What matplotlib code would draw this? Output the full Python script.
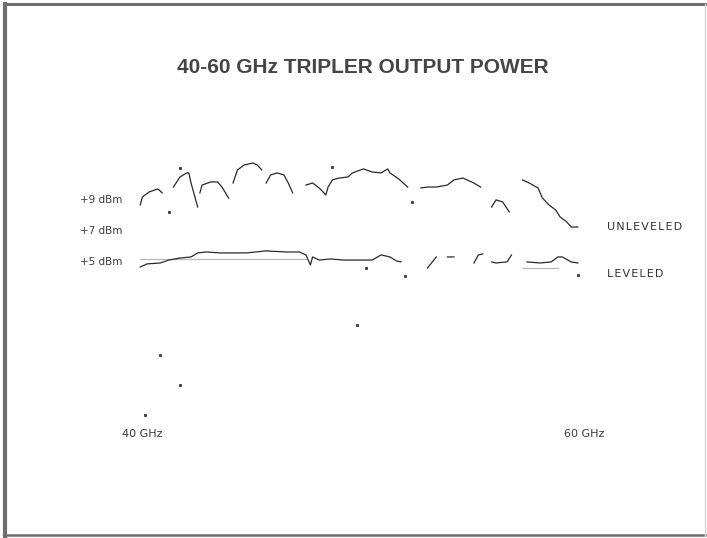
import numpy as np
import matplotlib.pyplot as plt
from matplotlib.lines import Line2D
from matplotlib.transforms import ScaledTranslation

nan = np.nan

# unleveled sweep, GHz / dBm (nan = pen lift on the plotter trace)
unlev_ghz = [40.1, 40.2, 40.5, 40.9, 41.1, nan,
             41.6, 41.9, 42.2, 42.3, 42.4, 42.7, nan,
             42.8, 42.9, 43.3, 43.6, 43.8, 44.1, nan,
             44.3, 44.5, 44.8, 45.2, 45.4, 45.6, nan,
             45.8, 46.0, 46.3, 46.6, 46.8, 47.0, nan,
             47.6, 47.9, 48.2, 48.5, 48.6, 48.8, 49.1, 49.5, 49.7, 50.2,
             50.6, 51.0, 51.3, 51.4, 51.8, 52.2, nan,
             52.8, 53.1, 53.5, 54.0, 54.3, 54.7, 55.2, 55.5, nan,
             56.0, 56.2, 56.5, 56.8, nan,
             57.4, 57.7, 58.1, 58.3, 58.6, 58.9, 59.1, 59.4, 59.6, 59.9]
unlev_dbm = [8.61, 9.13, 9.45, 9.65, 9.39, nan,
             9.77, 10.42, 10.68, 10.68, 10.03, 8.48, nan,
             9.39, 9.90, 10.10, 10.10, 9.77, 9.06, nan,
             10.03, 10.87, 11.19, 11.32, 11.19, 10.87, nan,
             10.03, 10.55, 10.68, 10.55, 10.03, 9.39, nan,
             9.90, 10.03, 9.71, 9.26, 9.77, 10.23, 10.35, 10.42, 10.68, 10.94,
             10.74, 10.68, 10.94, 10.68, 10.29, 9.77, nan,
             9.71, 9.77, 9.77, 9.90, 10.23, 10.35, 10.03, 9.77, nan,
             8.48, 8.94, 8.81, 8.16, nan,
             10.23, 10.03, 9.71, 9.06, 8.61, 8.29, 7.84, 7.52, 7.19, 7.19]

# leveled sweep
lev_ghz = [40.1, 40.4, 41.0, 41.4, 41.9, 42.4, 42.7, 43.1, 43.7, 44.3, 44.9,
           45.8, 46.7, 47.3, 47.6, 47.8, 47.9, 48.2, 48.7, 49.3, 49.9, 50.6,
           51.0, 51.4, 51.7, 51.9, nan,
           53.1, 53.5, nan,
           54.0, 54.3, nan,
           55.2, 55.4, 55.6, nan,
           56.0, 56.2, 56.7, 56.9, nan,
           57.6, 58.2, 58.7, 59.0, 59.2, 59.6, 59.9]
lev_dbm = [4.61, 4.81, 4.87, 5.06, 5.19, 5.26, 5.52, 5.58, 5.52, 5.52, 5.52,
           5.65, 5.58, 5.58, 5.39, 4.74, 5.26, 5.06, 5.13, 5.06, 5.06, 5.06,
           5.39, 5.26, 5.00, 4.94, nan,
           4.55, 5.26, nan,
           5.26, 5.26, nan,
           4.87, 5.39, 5.45, nan,
           4.94, 4.87, 4.94, 5.39, nan,
           4.94, 4.87, 4.94, 5.26, 5.26, 4.94, 4.87]

# faint set-point lines under the leveled trace
ref_ghz = [40.1, 47.6, nan, 57.4, 59.0]
ref_dbm = [5.13, 5.13, nan, 4.55, 4.55]

# stray pen dots
dot_ghz = [41.4, 41.9, 48.8, 52.4, 50.3, 52.1, 59.9, 49.9, 41.0, 41.9, 40.3]
dot_dbm = [8.16, 11.0, 11.06, 8.81, 4.55, 4.03, 4.10, 0.87, -1.06, -3.0, -4.94]

y_ticks = [9, 7, 5]
y_labels = ['+9 dBm', '+7 dBm', '+5 dBm']
x_ticks = [40, 60]
x_labels = ['40 GHz', '60 GHz']

fig = plt.figure(figsize=(7.07, 5.38), dpi=100)
fig.patch.set_facecolor('white')

# slide border: heavy top/left/bottom, faint right edge
edge = '#6e6e6e'
fig.add_artist(Line2D([0.006, 0.997], [0.993, 0.993], color=edge, lw=2.2))
fig.add_artist(Line2D([0.007, 0.007], [0.004, 0.993], color=edge, lw=3.0))
fig.add_artist(Line2D([0.006, 0.997], [0.005, 0.005], color=edge, lw=1.8))
fig.add_artist(Line2D([0.997, 0.997], [0.004, 0.993], color='#d4d4d4', lw=1.0))

ax = fig.add_axes([138 / 707, 0.2124, 442 / 707, 0.5042])
ax.plot(ref_ghz, ref_dbm, color='#b8b8b8', lw=0.9)
ax.plot(unlev_ghz, unlev_dbm, color='#2a2a2a', lw=0.9)
ax.plot(lev_ghz, lev_dbm, color='#2a2a2a', lw=0.9)
ax.plot(dot_ghz, dot_dbm, ls='none', marker='s', ms=1.2, color='#444444')

ax.set_xlim(40, 60)
ax.set_ylim(-5.5, 12)
ax.set_xticks(x_ticks)
ax.set_xticklabels(x_labels)
ax.set_yticks(y_ticks)
ax.set_yticklabels(y_labels)
ax.tick_params(length=0, labelsize=8, colors='#3c3c3c')
ax.tick_params(axis='x', pad=4)
ax.tick_params(axis='y', labelsize=7.5, pad=11)
for s in ax.spines.values():
    s.set_visible(False)

# freq labels sit a little right of the sweep ends
for lab in ax.get_xticklabels():
    lab.set_transform(lab.get_transform() + ScaledTranslation(3 / 72, 0, fig.dpi_scale_trans))

hs = '\u200a'
ax.text(1.06, 7.19, hs.join('UNLEVELED'), transform=ax.get_yaxis_transform(),
        fontsize=8, color='#333333', va='center')
ax.text(1.06, 4.19, hs.join('LEVELED'), transform=ax.get_yaxis_transform(),
        fontsize=8, color='#333333', va='center')

fig.text(0.513, 0.874, '40-60 GHz TRIPLER OUTPUT POWER', ha='center', va='center',
         fontsize=15, fontweight='bold', color='#454545', family='Liberation Sans')

fig.savefig('out.png', dpi=100)
